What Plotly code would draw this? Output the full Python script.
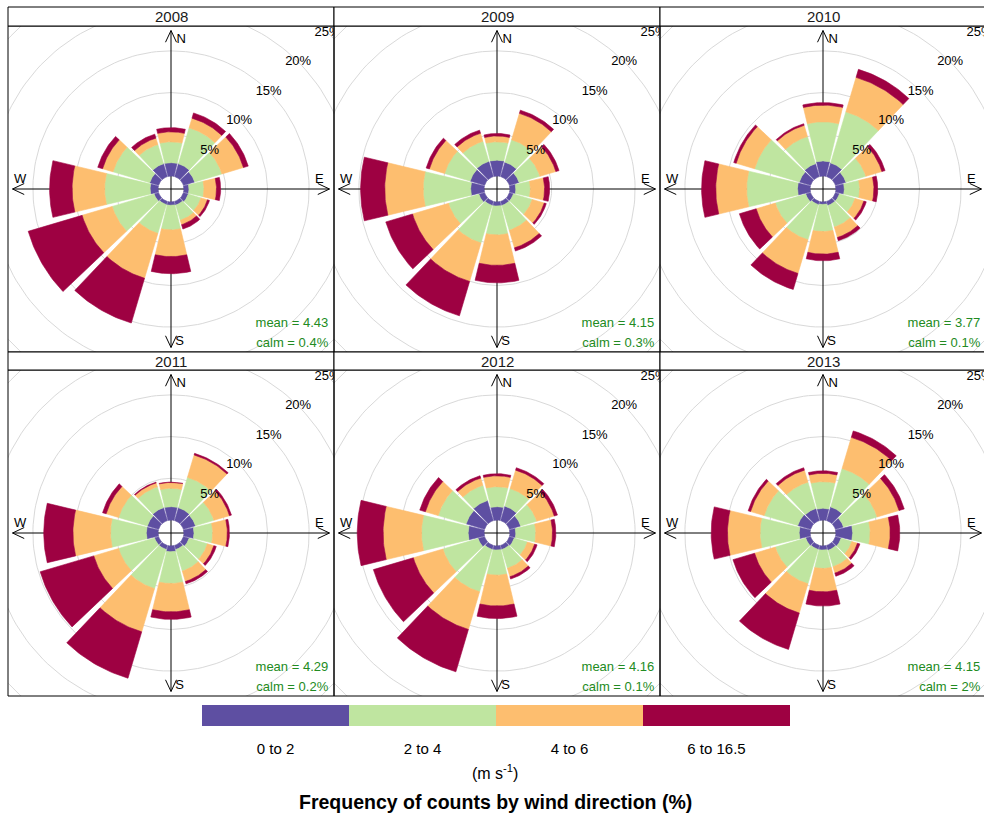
import numpy as np
import plotly.graph_objects as go

# ---------------- data ----------------
years = ["2008", "2009", "2010", "2011", "2012", "2013"]
directions = [0, 30, 60, 90, 120, 150, 180, 210, 240, 270, 300, 330]
speed_bins = ["0 to 2", "2 to 4", "4 to 6", "6 to 16.5"]
bin_colors = ["#5E4FA2", "#BFE5A0", "#FDBE6F", "#9E0142"]
mean_speed = ["4.43", "4.15", "3.77", "4.29", "4.16", "4.15"]
calm_pct = ["0.4", "0.3", "0.1", "0.2", "0.1", "2"]
ring_values = [5, 10, 15, 20, 25]

# frequency (%) per direction for each speed bin: [0-2, 2-4, 4-6, 6-16.5]
freq_2008 = [
    [1.6, 1.6, 1.4, 0.6, 0.6, 0.45, 0.4, 0.4, 0.55, 0.95, 1.1, 1.6],
    [2.5, 4.5, 3.4, 1.8, 1.6, 1.9, 2.95, 3.6, 5.25, 5.45, 4.6, 2.4],
    [1.2, 1.2, 2.7, 1.5, 0.8, 0.55, 3.2, 5.6, 3.75, 3.9, 1.3, 0.8],
    [0.5, 0.65, 0.6, 0.5, 0.25, 0.55, 2.05, 5.6, 6.75, 2.7, 0.6, 0.5],
]
freq_2009 = [
    [1.9, 1.8, 1.2, 0.7, 0.5, 0.5, 0.5, 0.5, 0.7, 1.6, 1.8, 1.9],
    [2.2, 2.8, 2.6, 1.75, 2.35, 3.1, 3.45, 4.7, 3.8, 5.7, 3.2, 2.5],
    [0.7, 3.3, 2.0, 1.7, 1.5, 2.2, 3.65, 4.8, 4.5, 4.6, 1.9, 1.0],
    [0.3, 0.4, 0.4, 0.6, 0.25, 0.4, 2.1, 4.3, 3.35, 2.9, 0.4, 0.4],
]
freq_2010 = [
    [1.8, 1.7, 1.3, 1.0, 0.5, 0.5, 0.3, 0.4, 0.6, 1.5, 1.4, 1.6],
    [4.7, 6.4, 2.5, 1.85, 1.95, 2.7, 3.25, 4.4, 3.8, 6.1, 5.6, 3.4],
    [2.0, 4.3, 2.0, 1.7, 1.1, 1.3, 2.7, 4.2, 2.4, 3.7, 2.3, 1.4],
    [0.3, 1.0, 0.4, 0.45, 0.3, 0.4, 0.8, 2.0, 2.1, 1.7, 0.3, 0.2],
]
freq_2011 = [
    [1.6, 1.6, 1.5, 1.2, 0.7, 0.5, 0.7, 0.5, 0.5, 1.4, 1.4, 1.6],
    [2.2, 3.8, 2.3, 2.25, 2.3, 2.7, 3.8, 4.9, 4.5, 4.3, 3.6, 2.6],
    [0.7, 2.8, 1.95, 1.75, 0.8, 1.3, 3.4, 5.4, 3.1, 4.5, 1.55, 0.5],
    [0.05, 0.2, 0.25, 0.25, 0.3, 0.3, 0.9, 5.8, 6.7, 3.5, 0.45, 0.1],
]
freq_2012 = [
    [1.6, 1.8, 1.4, 0.7, 0.6, 0.5, 0.5, 0.5, 0.8, 1.9, 2.3, 2.5],
    [2.4, 2.2, 2.0, 2.4, 1.65, 2.35, 3.0, 5.3, 4.4, 5.6, 3.5, 1.9],
    [1.3, 2.3, 2.2, 2.0, 0.9, 1.05, 3.7, 4.7, 3.7, 4.6, 1.6, 0.9],
    [0.25, 0.3, 0.4, 0.4, 0.3, 0.3, 1.5, 5.3, 5.0, 3.1, 0.7, 0.3],
]
freq_2013 = [
    [1.4, 1.7, 1.0, 2.0, 0.7, 0.6, 0.5, 0.5, 0.6, 1.3, 1.6, 1.5],
    [3.2, 4.8, 4.2, 2.1, 1.35, 2.05, 2.2, 4.3, 3.8, 4.7, 4.2, 3.3],
    [1.0, 3.9, 2.75, 2.4, 0.7, 0.8, 2.8, 3.65, 2.6, 3.9, 1.7, 1.5],
    [0.3, 0.8, 0.65, 1.15, 0.3, 0.4, 1.7, 4.55, 2.7, 1.95, 0.3, 0.3],
]
all_freq = [freq_2008, freq_2009, freq_2010, freq_2011, freq_2012, freq_2013]

# ---------------- layout constants ----------------
W, H = 984, 819
PX_PER_UNIT = 8.34          # pixels per 1 % of frequency
OFFSET = 1.56               # central hole (in % units)
HALF_WIDTH = 13.5           # angular half width of a wedge (deg)
AXIS_LEN = 19.0
FONT = "Liberation Sans, Arial, sans-serif"

col_x = [(8, 334), (334, 660), (660, 986)]
row_y = [((7, 26), (26, 352)), ((352, 370), (370, 696))]


def px_x(p):
    return p / W


def px_y(p):
    return 1 - p / H


def arc_pts(r, a0, a1, n=24):
    t = np.radians(np.linspace(a0, a1, n))
    return r * np.sin(t), r * np.cos(t)


fig = go.Figure()
shapes = []
annotations = []

for i, yr in enumerate(years):
    row, col = divmod(i, 3)
    (sy0, sy1), (py0, py1) = row_y[row]
    cx0, cx1 = col_x[col]
    half = (py1 - py0) / 2 / PX_PER_UNIT
    vis_x1 = min(cx1, W)
    xr = [-half, -half + (vis_x1 - cx0) / PX_PER_UNIT]
    xa = "x" if i == 0 else f"x{i + 1}"
    ya = "y" if i == 0 else f"y{i + 1}"
    xkey = "xaxis" if i == 0 else f"xaxis{i + 1}"
    ykey = "yaxis" if i == 0 else f"yaxis{i + 1}"
    fig.update_layout(**{
        xkey: dict(domain=[px_x(cx0), px_x(vis_x1)], range=xr, visible=False,
                   fixedrange=True, anchor=ya),
        ykey: dict(domain=[px_y(py1), px_y(py0)], range=[-half, half], visible=False,
                   fixedrange=True, anchor=xa),
    })

    # grid rings
    rx, ry = [], []
    for k in [0] + ring_values:
        x, y = arc_pts(OFFSET + k, 0, 360, 180)
        rx += list(x) + [None]
        ry += list(y) + [None]
    fig.add_trace(go.Scatter(x=rx, y=ry, mode="lines", xaxis=xa, yaxis=ya,
                             line=dict(color="#D9D9D9", width=1), hoverinfo="skip"))

    # compass axes with open arrow heads
    L = AXIS_LEN
    aw, ah = 0.66, 1.4
    axx = [-L, L, None, 0, 0, None,
           -aw, 0, aw, None, -aw, 0, aw, None,
           L - ah, L, L - ah, None, -L + ah, -L, -L + ah]
    axy = [0, 0, None, -L, L, None,
           L - ah, L, L - ah, None, -L + ah, -L, -L + ah, None,
           aw, 0, -aw, None, aw, 0, -aw]
    fig.add_trace(go.Scatter(x=axx, y=axy, mode="lines", xaxis=xa, yaxis=ya,
                             line=dict(color="black", width=1), hoverinfo="skip"))

    # stacked wedges
    freq = all_freq[i]
    cum = np.zeros(len(directions))
    for b in range(len(speed_bins)):
        vals = np.array(freq[b])
        px_, py_ = [], []
        for d, lo, v in zip(directions, cum, vals):
            r1 = OFFSET + lo
            r2 = OFFSET + lo + v
            x1, y1 = arc_pts(r1, d - HALF_WIDTH, d + HALF_WIDTH)
            x2, y2 = arc_pts(r2, d + HALF_WIDTH, d - HALF_WIDTH)
            px_ += list(x1) + list(x2) + [x1[0], None]
            py_ += list(y1) + list(y2) + [y1[0], None]
        fig.add_trace(go.Scatter(x=px_, y=py_, mode="lines", fill="toself",
                                 fillcolor=bin_colors[b], xaxis=xa, yaxis=ya,
                                 line=dict(color=bin_colors[b], width=0.6),
                                 hoverinfo="skip"))
        cum = cum + vals

    # ring labels at 45 degrees
    s45 = np.sin(np.radians(45))
    fig.add_trace(go.Scatter(
        x=[(OFFSET + k) * s45 for k in ring_values],
        y=[(OFFSET + k) * s45 for k in ring_values],
        text=[f"{k}%" for k in ring_values], mode="text", xaxis=xa, yaxis=ya,
        textfont=dict(family=FONT, size=13, color="black"), hoverinfo="skip"))

    # compass letters
    fig.add_trace(go.Scatter(
        x=[1.22, 1.02, -18.1, 17.8], y=[17.95, -18.3, 1.08, 1.08],
        text=["N", "S", "W", "E"], mode="text", xaxis=xa, yaxis=ya,
        textfont=dict(family=FONT, size=13, color="black"), hoverinfo="skip"))

    # mean / calm
    fig.add_trace(go.Scatter(
        x=[18.85, 18.85], y=[-16.1, -18.5],
        text=[f"mean = {mean_speed[i]}", f"calm = {calm_pct[i]}%"],
        mode="text", textposition="middle left", xaxis=xa, yaxis=ya,
        textfont=dict(family=FONT, size=13, color="#228B22"), hoverinfo="skip"))

    # panel frame and strip
    shapes.append(dict(type="rect", xref="paper", yref="paper",
                       x0=px_x(cx0), x1=px_x(cx1), y0=px_y(py1), y1=px_y(py0),
                       line=dict(color="black", width=1), layer="above"))
    shapes.append(dict(type="rect", xref="paper", yref="paper",
                       x0=px_x(cx0), x1=px_x(cx1), y0=px_y(sy1), y1=px_y(sy0),
                       line=dict(color="black", width=1), fillcolor="white",
                       layer="above"))
    annotations.append(dict(x=px_x((cx0 + cx1) / 2), y=px_y((sy0 + sy1) / 2),
                            xref="paper", yref="paper", text=yr, showarrow=False,
                            font=dict(family=FONT, size=15, color="#1a1a1a"),
                            xanchor="center", yanchor="middle"))

# ---------------- colour key ----------------
fig.add_trace(go.Heatmap(
    z=[list(range(len(speed_bins)))], x=speed_bins, y=["key"],
    colorscale=[[0, bin_colors[0]], [0.25, bin_colors[0]],
                [0.25, bin_colors[1]], [0.5, bin_colors[1]],
                [0.5, bin_colors[2]], [0.75, bin_colors[2]],
                [0.75, bin_colors[3]], [1, bin_colors[3]]],
    zmin=0, zmax=3, showscale=False, xaxis="x7", yaxis="y7", hoverinfo="skip"))
fig.update_layout(
    xaxis7=dict(domain=[px_x(202), px_x(790)], anchor="y7", ticks="outside",
                ticklen=9, tickcolor="rgba(0,0,0,0)", showline=False,
                showgrid=False, zeroline=False, fixedrange=True,
                tickfont=dict(family=FONT, size=15, color="black")),
    yaxis7=dict(domain=[px_y(726), px_y(705)], anchor="x7", visible=False,
                fixedrange=True),
)
annotations.append(dict(x=px_x(495), y=px_y(772), xref="paper", yref="paper",
                        text="(m s<sup>-1</sup>)", showarrow=False,
                        font=dict(family=FONT, size=16, color="black"),
                        xanchor="center", yanchor="middle"))
annotations.append(dict(x=px_x(495), y=px_y(802), xref="paper", yref="paper",
                        text="<b>Frequency of counts by wind direction (%)</b>",
                        showarrow=False,
                        font=dict(family=FONT, size=19.5, color="black"),
                        xanchor="center", yanchor="middle"))

fig.update_layout(width=W, height=H, margin=dict(l=0, r=0, t=0, b=0),
                  paper_bgcolor="white", plot_bgcolor="white",
                  showlegend=False, shapes=shapes, annotations=annotations)

fig.write_html(
    "out.html",
    config={"displayModeBar": False},
    post_script="document.body.style.margin='0px';document.body.style.overflow='hidden';",
)
